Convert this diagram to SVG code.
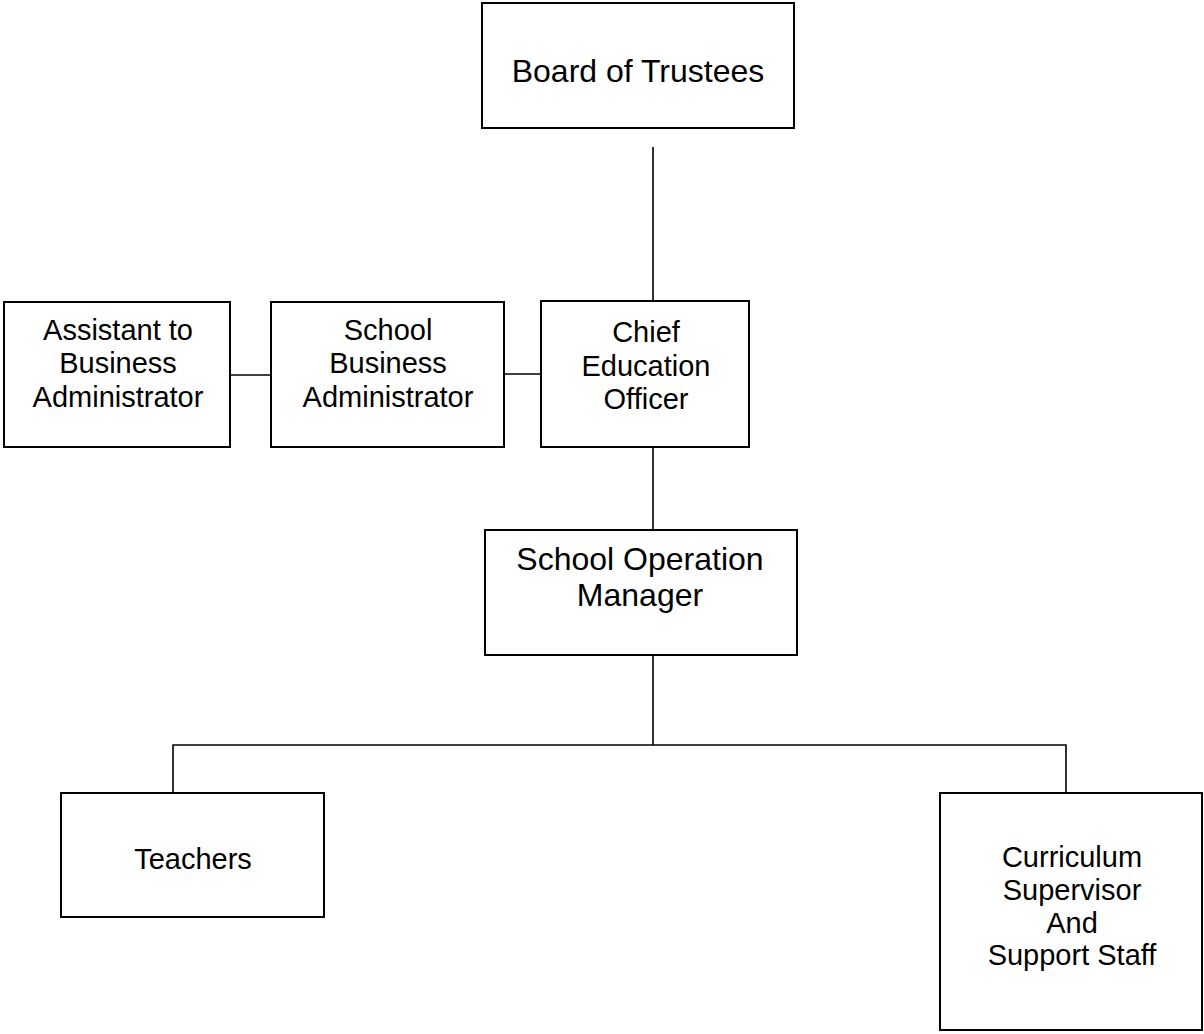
<svg xmlns="http://www.w3.org/2000/svg" width="1204" height="1034" viewBox="0 0 1204 1034">
<style>
.box{fill:#fff;stroke:#000;stroke-width:2}
.ln{stroke:#000;stroke-width:1.6;fill:none}
text{font-family:"Liberation Sans",Arial,sans-serif;font-size:29px;fill:#000;text-anchor:middle}
.big{font-size:32px}
</style>
<rect width="1204" height="1034" fill="#fff"/>
<g id="connectors">
<line class="ln" x1="653" y1="147" x2="653" y2="301"/>
<line class="ln" x1="230" y1="375" x2="271" y2="375"/>
<line class="ln" x1="504" y1="374" x2="541" y2="374"/>
<line class="ln" x1="653" y1="447" x2="653" y2="530"/>
<line class="ln" x1="653" y1="655" x2="653" y2="745"/>
<polyline class="ln" points="173,793 173,745 1066,745 1066,793"/>
</g>
<g id="board">
<rect class="box" x="482" y="3" width="312" height="125"/>
<text class="big" x="638" y="82">Board of Trustees</text>
</g>
<g id="assistant">
<rect class="box" x="4" y="302" width="226" height="145"/>
<text x="118" y="340">Assistant to</text>
<text x="118" y="373">Business</text>
<text x="118" y="407">Administrator</text>
</g>
<g id="sba">
<rect class="box" x="271" y="302" width="233" height="145"/>
<text x="388" y="340">School</text>
<text x="388" y="373">Business</text>
<text x="388" y="407">Administrator</text>
</g>
<g id="ceo">
<rect class="box" x="541" y="301" width="208" height="146"/>
<text x="646" y="342">Chief</text>
<text x="646" y="376">Education</text>
<text x="646" y="409">Officer</text>
</g>
<g id="som">
<rect class="box" x="485" y="530" width="312" height="125"/>
<text class="big" x="640" y="570">School Operation</text>
<text class="big" x="640" y="606">Manager</text>
</g>
<g id="teachers">
<rect class="box" x="61" y="793" width="263" height="124"/>
<text x="193" y="869">Teachers</text>
</g>
<g id="curriculum">
<rect class="box" x="940" y="793" width="262" height="237"/>
<text x="1072" y="867">Curriculum</text>
<text x="1072" y="900">Supervisor</text>
<text x="1072" y="933">And</text>
<text x="1072" y="965">Support Staff</text>
</g>
</svg>
